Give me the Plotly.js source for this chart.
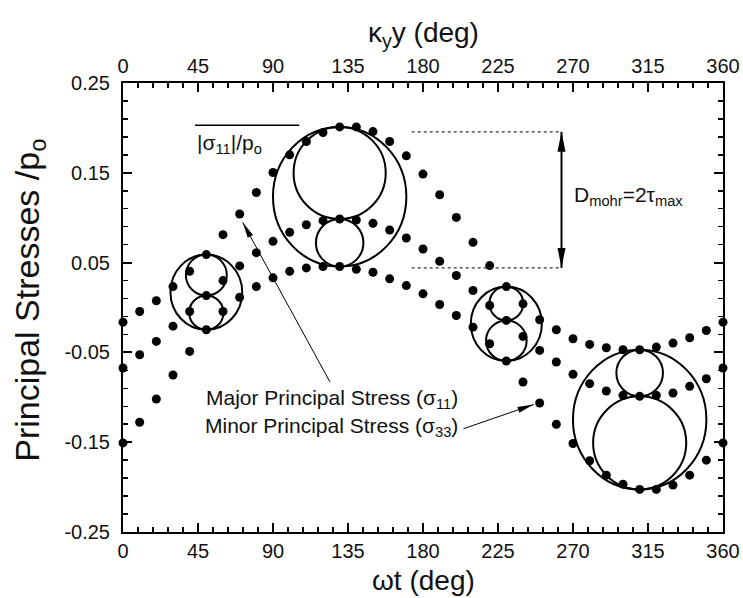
<!DOCTYPE html>
<html><head><meta charset="utf-8">
<script src="https://cdn.plot.ly/plotly-3.0.1.min.js"></script>
<style>html,body{margin:0;padding:0;background:#fff}#chart{width:743px;height:598px}</style>
</head><body><div id="chart"></div>
<script>
// ---- data ----
const omegaT = [0,10,20,30,40,50,60,70,80,90,100,110,120,130,140,150,160,170,180,190,200,210,220,230,240,250,260,270,280,290,300,310,320,330,340,350,360];
const sigma11 = [-0.0163,-0.0045,0.0075,0.0233,0.0403,0.0589,0.0811,0.1041,0.1281,0.1503,0.1700,0.1848,0.1948,0.2011,0.2011,0.1959,0.1848,0.1689,0.1486,0.1256,0.1003,0.0726,0.0467,0.0233,0.0041,-0.0137,-0.0248,-0.0348,-0.0411,-0.0448,-0.0470,-0.0470,-0.0441,-0.0396,-0.0337,-0.0256,-0.0163];
const sigma22 = [-0.0674,-0.0526,-0.0378,-0.0208,-0.0044,0.0133,0.0300,0.0463,0.0611,0.0737,0.0837,0.0922,0.0967,0.0985,0.0974,0.0937,0.0863,0.0774,0.0652,0.0515,0.0356,0.0189,0.0022,-0.0144,-0.0322,-0.0478,-0.0607,-0.0744,-0.0848,-0.0930,-0.0978,-0.0989,-0.0978,-0.0952,-0.0878,-0.0793,-0.0674];
const sigma33 = [-0.1508,-0.1278,-0.1019,-0.0752,-0.0489,-0.0248,-0.0044,0.0114,0.0233,0.0330,0.0403,0.0441,0.0456,0.0456,0.0426,0.0392,0.0319,0.0244,0.0152,0.0033,-0.0089,-0.0219,-0.0404,-0.0596,-0.0830,-0.1063,-0.1300,-0.1514,-0.1707,-0.1867,-0.1967,-0.2026,-0.2026,-0.1978,-0.1867,-0.1700,-0.1508];
const xTickVals = [0,45,90,135,180,225,270,315,360];
const yTickVals = [-0.25,-0.15,-0.05,0.05,0.15,0.25];
const yTickText = ['-0.25','-0.15','-0.05','0.05','0.15','0.25'];
const mohrAngles = [50,130,230,310];

// ---- layout geometry ----
const W = 743, H = 598;
const M = {l:123, r:20, t:83, b:66};
const xRange = [0,360], yRange = [-0.25,0.25];
const PXX = (W - M.l - M.r) / (xRange[1]-xRange[0]);
const PXY = (H - M.t - M.b) / (yRange[1]-yRange[0]);
const FONT = 'Liberation Sans, Arial, sans-serif';
const INK = '#111';

function dots(y){
  return {x: omegaT, y: y, type:'scatter', mode:'markers', cliponaxis:false, showlegend:false,
          marker:{size:9, color:'black', line:{width:0}}, hoverinfo:'skip'};
}
const traces = [dots(sigma11), dots(sigma22), dots(sigma33),
  {x:[], y:[], xaxis:'x2', type:'scatter', mode:'markers', showlegend:false}];

const shapes = [];
function circ(xc, ytop, ybot, ratio){
  const r = (ytop - ybot)/2;
  const rx = r * PXY * ratio / PXX;
  shapes.push({type:'circle', xref:'x', yref:'y', x0:xc-rx, x1:xc+rx, y0:ybot, y1:ytop,
               line:{color:'black', width:2}, layer:'above'});
}
mohrAngles.forEach(a => {
  const i = omegaT.indexOf(a);
  circ(a, sigma11[i], sigma33[i], 0.955);
  circ(a, sigma11[i], sigma22[i], 1.0);
  circ(a, sigma22[i], sigma33[i], 1.0);
});
function head(xd, yd, sx, sy, L, Wd){
  const n = Math.hypot(sx, sy); sx/=n; sy/=n;
  const bx = -L*sx, by = -L*sy, px = -sy, py = sx;
  const c1x = bx + Wd/2*px, c1y = by + Wd/2*py, c2x = bx - Wd/2*px, c2y = by - Wd/2*py;
  return {type:'path', xref:'x', yref:'y', xsizemode:'pixel', ysizemode:'pixel', xanchor:xd, yanchor:yd,
          path:`M0,0 L${c1x.toFixed(2)},${(-c1y).toFixed(2)} L${c2x.toFixed(2)},${(-c2y).toFixed(2)} Z`,
          fillcolor:'black', line:{width:0}};
}
function arrow(x0,y0,x1,y1,L,Wd,lw,both){
  shapes.push({type:'line', xref:'x', yref:'y', x0:x0, y0:y0, x1:x1, y1:y1, line:{color:'black', width:lw}});
  const sx = (x1-x0)*PXX, sy = -(y1-y0)*PXY;
  shapes.push(head(x1, y1, sx, sy, L, Wd));
  if(both) shapes.push(head(x0, y0, -sx, -sy, L, Wd));
}
// sigma11 / sigma33 pointer arrows
arrow(124.2, -0.083, 71.8, 0.0948, 16, 6, 1, false);
arrow(204.3, -0.135, 246.3, -0.1081, 16, 6, 1, false);
// D_mohr double arrow and dotted guides
arrow(263.1, 0.0441, 263.1, 0.1956, 20, 8, 2, true);
shapes.push({type:'line', xref:'x', yref:'y', x0:173.2, x1:263.2, y0:0.1956, y1:0.1956, line:{color:'#333', width:1.2, dash:'dot'}});
shapes.push({type:'line', xref:'x', yref:'y', x0:173.2, x1:263.2, y0:0.0441, y1:0.0441, line:{color:'#333', width:1.2, dash:'dot'}});
// overline above |sigma11|/po
shapes.push({type:'line', xref:'x', yref:'y', x0:43.2, x1:105.8, y0:0.203, y1:0.203, line:{color:'black', width:1.5}});

const tf = {family:FONT, size:20, color:INK};
const af = {family:FONT, size:21, color:INK};
const tt = {family:FONT, size:28, color:INK};
const yt = {family:FONT, size:34, color:INK};
const annotations = [
  {text:'|σ<sub>11</sub>|/p<sub>o</sub>', x:43.2, y:0.182, xref:'x', yref:'y', xanchor:'left', yanchor:'middle', showarrow:false, font:af},
  {text:'D<sub>mohr</sub>=2τ<sub>max</sub>', x:269.2, y:0.124, xref:'x', yref:'y', xanchor:'left', yanchor:'middle', showarrow:false, font:af},
  {text:'Major Principal Stress (σ<sub>11</sub>)', x:125.1, y:-0.102, xref:'x', yref:'y', xanchor:'center', yanchor:'middle', showarrow:false, font:af},
  {text:'Minor Principal Stress (σ<sub>33</sub>)', x:125.1, y:-0.1335, xref:'x', yref:'y', xanchor:'center', yanchor:'middle', showarrow:false, font:af},
  {text:'ωt (deg)', x:0.5, y:-0.108, xref:'paper', yref:'paper', xanchor:'center', yanchor:'middle', showarrow:false, font:tt},
  {text:'κ<sub>y</sub>y (deg)', x:0.5, y:1.108, xref:'paper', yref:'paper', xanchor:'center', yanchor:'middle', showarrow:false, font:tt},
  {text:'Principal Stresses /p<sub>o</sub>', x:-0.155, y:0.515, xref:'paper', yref:'paper', xanchor:'center', yanchor:'middle', textangle:-90, showarrow:false, font:yt}
];

const xCommon = {range:xRange, tickmode:'array', tickvals:xTickVals, ticks:'inside', ticklen:9, tickwidth:2, tickcolor:'black',
  showline:true, linewidth:2, linecolor:'black', showgrid:false, zeroline:false, tickfont:tf,
  minor:{tickmode:'linear', tick0:0, dtick:9, ticks:'inside', ticklen:5, tickwidth:1.5, tickcolor:'black', showgrid:false}};

const layout = {
  width:W, height:H, margin:M, paper_bgcolor:'white', plot_bgcolor:'white', showlegend:false,
  font:{family:FONT, color:INK},
  xaxis: Object.assign({}, xCommon, {side:'bottom', anchor:'y'}),
  xaxis2: Object.assign({}, xCommon, {side:'top', overlaying:'x', anchor:'y'}),
  yaxis: {range:yRange, tickmode:'array', tickvals:yTickVals, ticktext:yTickText, ticks:'inside', ticklen:9, tickwidth:2, tickcolor:'black',
    showline:true, linewidth:2, linecolor:'black', mirror:'ticks', showgrid:false, zeroline:false, tickfont:tf, ticklabelstandoff:7,
    minor:{tickmode:'linear', tick0:0.05, dtick:0.02, ticks:'inside', ticklen:5, tickwidth:1.5, tickcolor:'black', showgrid:false}},
  shapes: shapes,
  annotations: annotations
};
Plotly.newPlot('chart', traces, layout, {displayModeBar:false, staticPlot:true});
</script></body></html>
